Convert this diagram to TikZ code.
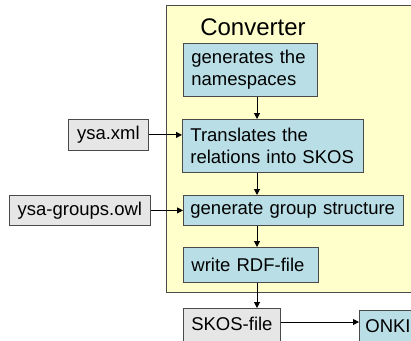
\documentclass[tikz,border=0pt]{standalone}
\usepackage{fontspec}
\setmainfont{Liberation Sans}
\usetikzlibrary{arrows.meta}
\definecolor{convyellow}{HTML}{FFFFCC}
\definecolor{stepblue}{HTML}{B9DEE6}
\definecolor{filegray}{HTML}{E6E6E6}
\definecolor{edgegray}{HTML}{4A4A4A}
\tikzset{
  stepbox/.style={draw=edgegray, line width=0.8pt, fill=stepblue, anchor=north west,
    inner xsep=8pt, inner ysep=0pt, align=left, font=\fontsize{18.5}{22.5}\selectfont},
  filebox/.style={draw=edgegray, line width=0.8pt, fill=filegray, anchor=north west,
    inner xsep=0pt, inner ysep=0pt, align=center, font=\fontsize{18.5}{22}\selectfont},
  arr/.style={line width=1pt, -{Triangle[length=6pt,width=6pt]}}
}
\begin{document}
\begin{tikzpicture}[x=1pt,y=-1pt]
\useasboundingbox (0,0) rectangle (411,340);
\clip (0,0) rectangle (411,340);
\node[draw=edgegray, line width=0.8pt, fill=convyellow, anchor=north west,
  minimum width=260pt, minimum height=287pt, inner sep=0pt] (conv) at (166,5) {};
\node[font=\fontsize{24}{28}\selectfont, inner sep=0pt] (title) at (253,27) {Converter};
\node[stepbox, text width=118pt, minimum height=53pt] (n1) at (183,43) {generates the\\namespaces};
\node[stepbox, text width=165pt, minimum height=53pt] (n2) at (182,119) {Translates the\\relations into SKOS};
\node[stepbox, inner xsep=7pt, text width=206pt, minimum height=30pt] (n3) at (183,195) {generate group structure};
\node[stepbox, text width=119pt, minimum height=35pt] (n4) at (183,247) {write RDF-file};
\node[filebox, minimum width=80pt, minimum height=31pt] (xml) at (68,119) {ysa.xml};
\node[filebox, minimum width=141pt, minimum height=30pt] (owl) at (9,195) {ysa-groups.owl};
\node[filebox, minimum width=97pt, text height=22pt, text depth=12pt] (skos) at (183,308) {SKOS-file};
\node[stepbox, inner xsep=6pt, text width=70pt, text height=22pt, text depth=12pt] (onki) at (359,310) {ONKI};
\coordinate (xa) at (257,0);
\coordinate (ya) at (0,322);
\draw[arr] (n1.south -| xa) -- (n2.north -| xa);
\draw[arr] (n2.south -| xa) -- (n3.north -| xa);
\draw[arr] (n3.south -| xa) -- (n4.north -| xa);
\draw[arr] (n4.south -| xa) -- (skos.north -| xa);
\draw[arr] (xml.east) -- (xml.east -| n2.west);
\draw[arr] (owl.east) -- (owl.east -| n3.west);
\draw[arr] (skos.east |- ya) -- (onki.west |- ya);
\end{tikzpicture}
\end{document}
